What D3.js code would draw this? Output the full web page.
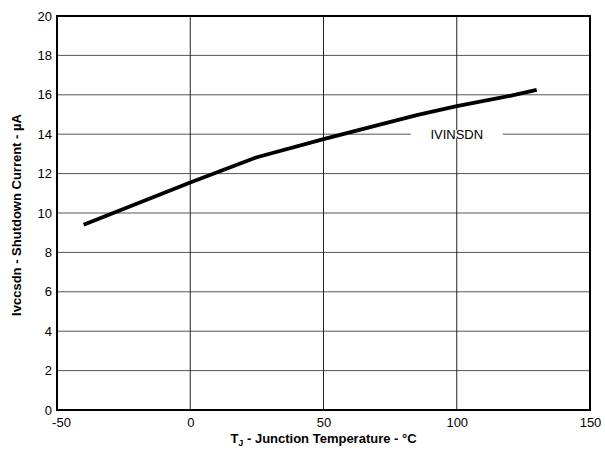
<!DOCTYPE html>
<html>
<head>
<meta charset="utf-8">
<script src="https://cdn.jsdelivr.net/npm/d3@7"></script>
<style>
  body { margin: 0; background: #fff; }
  text { font-family: "Liberation Sans", Arial, sans-serif; }
</style>
</head>
<body>
<script>
var temps = [-40, 0, 25, 50, 85, 100, 120, 130];
var current = [9.4, 11.55, 12.83, 13.75, 14.97, 15.42, 15.95, 16.25];
var xTicks = [-50, 0, 50, 100, 150];
var yTicks = [0, 2, 4, 6, 8, 10, 12, 14, 16, 18, 20];
var seriesLabel = 'IVINSDN';

var width = 605, height = 451;
var margin = {top: 16, right: 15, bottom: 41, left: 57};
var w = width - margin.left - margin.right, h = height - margin.top - margin.bottom;

var svg = d3.select('body').append('svg').attr('width', width).attr('height', height);
var g = svg.append('g').attr('transform', 'translate(' + margin.left + ',' + margin.top + ')');

var x = d3.scaleLinear().domain([-50, 150]).range([0, w]);
var y = d3.scaleLinear().domain([0, 20]).range([h, 0]);

// grid
g.append('g').selectAll('line').data(yTicks.slice(1, -1)).enter().append('line')
  .attr('x1', 0).attr('x2', w).attr('y1', function(d) { return y(d); }).attr('y2', function(d) { return y(d); })
  .attr('stroke', '#555').attr('stroke-width', 1);
g.append('g').selectAll('line').data(xTicks.slice(1, -1)).enter().append('line')
  .attr('y1', 0).attr('y2', h).attr('x1', function(d) { return x(d); }).attr('x2', function(d) { return x(d); })
  .attr('stroke', '#222').attr('stroke-width', 1);

// axes (plain hyphen for negatives, as in the original)
var fmt = function(d) { return String(d); };
var xAxis = g.append('g').attr('transform', 'translate(0,' + h + ')')
  .call(d3.axisBottom(x).tickValues(xTicks).tickFormat(fmt).tickSize(0).tickPadding(8));
var yAxis = g.append('g').call(d3.axisLeft(y).tickValues(yTicks).tickFormat(fmt).tickSize(0).tickPadding(5));
[xAxis, yAxis].forEach(function(a) {
  a.select('.domain').remove();
  a.selectAll('text').attr('font-size', 13).attr('fill', '#000')
    .style('font-family', '"Liberation Sans", Arial, sans-serif');
});
xAxis.selectAll('text').filter(function(d) { return d === -50; }).attr('dx', 4);

// label on the 14 gridline
var lx = x(100), ly = y(14);
g.append('rect').attr('x', lx - 46).attr('y', ly - 4).attr('width', 92).attr('height', 8).attr('fill', '#fff');
g.append('text').attr('x', lx).attr('y', ly + 5).attr('text-anchor', 'middle')
  .attr('font-size', 13).text(seriesLabel);

// curve
var line = d3.line().x(function(d) { return x(d[0]); }).y(function(d) { return y(d[1]); });
g.append('path').datum(d3.zip(temps, current)).attr('d', line)
  .attr('fill', 'none').attr('stroke', '#000').attr('stroke-width', 3.8).attr('stroke-linejoin', 'round');

// frame
g.append('rect').attr('width', w).attr('height', h).attr('fill', 'none').attr('stroke', '#000').attr('stroke-width', 2);

// axis titles
var xt = svg.append('text').attr('x', margin.left + w / 2).attr('y', 443).attr('text-anchor', 'middle')
  .attr('font-size', 13).attr('font-weight', 'bold');
xt.append('tspan').text('T');
xt.append('tspan').attr('font-size', 9).attr('dy', 3).text('J');
xt.append('tspan').attr('dy', -3).text(' - Junction Temperature - °C');

svg.append('text').attr('transform', 'translate(21,' + (margin.top + h / 2 + 2) + ')rotate(-90)')
  .attr('text-anchor', 'middle').attr('font-size', 13).attr('font-weight', 'bold')
  .text('Ivccsdn - Shutdown Current - µA');
</script>
</body>
</html>
